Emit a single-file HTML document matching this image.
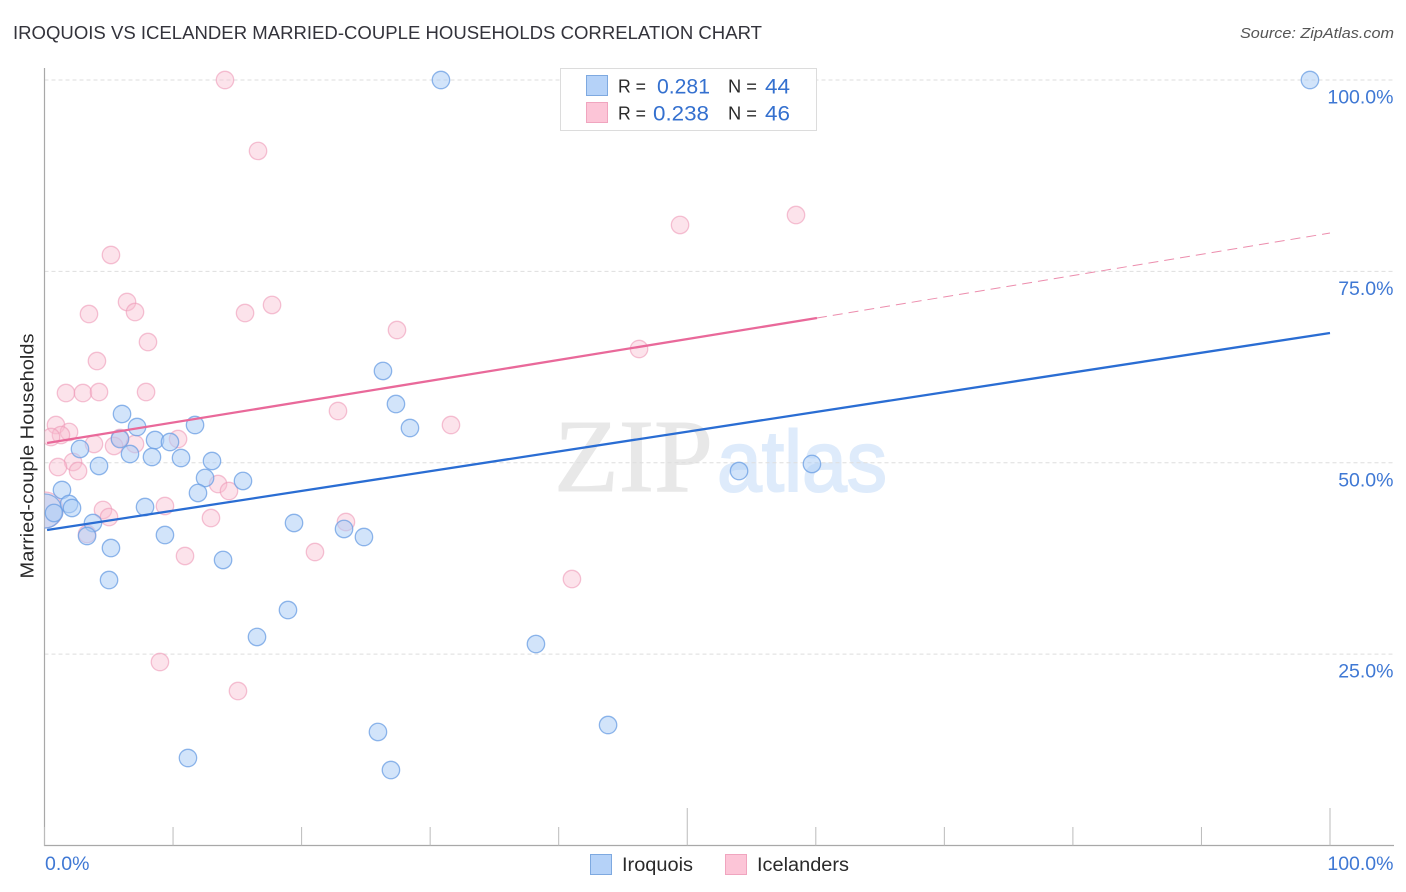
<!DOCTYPE html>
<html lang="en">
<head>
<meta charset="utf-8">
<title>Iroquois vs Icelander Married-couple Households Correlation Chart</title>
<style>
html,body{margin:0;padding:0;background:#fff;}
svg{display:block;}
text{font-family:"Liberation Sans",sans-serif;}
</style>
</head>
<body>
<svg id="chart" xmlns="http://www.w3.org/2000/svg" width="1406" height="892" viewBox="0 0 1406 892">
  <defs>
    <clipPath id="plot-clip"><rect x="44.5" y="60" width="1350" height="786"/></clipPath>
  </defs>
  <rect width="1406" height="892" fill="#fff"/>
  <text x="13" y="39" font-size="18.5" fill="#33333b" textLength="749" lengthAdjust="spacingAndGlyphs">IROQUOIS VS ICELANDER MARRIED-COUPLE HOUSEHOLDS CORRELATION CHART</text>
  <text x="1394" y="38" font-size="15" font-style="italic" fill="#555" text-anchor="end" textLength="154" lengthAdjust="spacingAndGlyphs">Source: ZipAtlas.com</text>

  <g>
    <text x="554" y="491" style="font-family:'Liberation Serif',serif" font-size="104" fill="#e8e8e8" stroke="#e8e8e8" stroke-width="1" textLength="159" lengthAdjust="spacingAndGlyphs">ZIP</text>
    <text x="717" y="491" font-size="86" fill="#deebfb" stroke="#deebfb" stroke-width="2" textLength="170" lengthAdjust="spacingAndGlyphs">atlas</text>
  </g>

  <g id="grid"></g>
  <g id="axes"></g>
  <g id="points" clip-path="url(#plot-clip)"></g>
  <g id="trends"></g>
  <g id="labels"></g>

  <text transform="translate(33.5,456) rotate(-90)" font-size="18" fill="#2a2a2a" text-anchor="middle" textLength="245" lengthAdjust="spacingAndGlyphs">Married-couple Households</text>

  <g>
    <rect x="560.5" y="68.5" width="256" height="62" fill="#fff" stroke="#dcdcdc"/>
    <rect x="586.5" y="75.5" width="21" height="20" fill="#b5d2f8" stroke="#7ea9e0"/>
    <rect x="586.5" y="102.5" width="21" height="20" fill="#fcc5d7" stroke="#f0a5bf"/>
    <text x="618" y="92.5" font-size="18" fill="#2a2a2a" textLength="28" lengthAdjust="spacingAndGlyphs">R =</text>
    <text x="657" y="93.5" font-size="21" fill="#3470cf" textLength="53" lengthAdjust="spacingAndGlyphs">0.281</text>
    <text x="728" y="92.5" font-size="18" fill="#2a2a2a" textLength="29" lengthAdjust="spacingAndGlyphs">N =</text>
    <text x="765" y="93.5" font-size="21" fill="#3470cf" textLength="25" lengthAdjust="spacingAndGlyphs">44</text>
    <text x="618" y="119.5" font-size="18" fill="#2a2a2a" textLength="28" lengthAdjust="spacingAndGlyphs">R =</text>
    <text x="653" y="120.5" font-size="21" fill="#3470cf" textLength="56" lengthAdjust="spacingAndGlyphs">0.238</text>
    <text x="728" y="119.5" font-size="18" fill="#2a2a2a" textLength="29" lengthAdjust="spacingAndGlyphs">N =</text>
    <text x="765" y="120.5" font-size="21" fill="#3470cf" textLength="25" lengthAdjust="spacingAndGlyphs">46</text>
  </g>

  <g>
    <rect x="590.5" y="854.5" width="21" height="20" fill="#b5d2f8" stroke="#7ea9e0"/>
    <text x="622" y="871" font-size="19" fill="#2a2a2a" textLength="71" lengthAdjust="spacingAndGlyphs">Iroquois</text>
    <rect x="725.5" y="854.5" width="21" height="20" fill="#fcc5d7" stroke="#f0a5bf"/>
    <text x="757" y="871" font-size="19" fill="#2a2a2a" textLength="92" lengthAdjust="spacingAndGlyphs">Icelanders</text>
  </g>
</svg>
<script>
const iroquoisX = [30.84,98.44,26.33,27.34,6.03,7.20,11.71,28.43,8.60,9.76,5.87,2.76,6.65,8.36,10.62,13.03,4.24,54.03,59.70,15.44,12.49,1.36,11.94,1.91,2.14,7.82,19.41,3.77,23.30,24.85,9.37,3.31,5.17,13.89,5.02,18.94,16.53,38.23,43.84,25.94,11.16,26.95,0.74];
const iroquoisY = [100,100,61.99,57.67,56.37,54.67,54.93,54.54,52.97,52.71,53.10,51.80,51.14,50.75,50.62,50.23,49.58,48.92,49.84,47.62,48.01,46.44,46.05,44.61,44.09,44.22,42.13,42.13,41.35,40.30,40.56,40.43,38.86,37.30,34.68,30.76,27.24,26.32,15.74,14.83,11.43,9.86,43.44];
const iroquoisClusterX = [0.04];
const iroquoisClusterY = [43.70];
const icelandersX = [14.04,16.61,58.46,49.44,5.17,6.42,7.04,3.46,15.60,17.70,8.05,27.42,4.08,46.25,1.67,2.99,4.24,7.90,22.83,31.62,0.89,1.91,1.28,0.51,5.87,10.39,3.85,7.04,5.41,2.22,1.05,2.61,13.50,14.35,9.37,4.55,5.02,12.95,23.45,3.31,21.04,10.93,41.03,8.98,15.05];
const icelandersY = [100,90.73,82.36,81.06,77.14,71.00,69.69,69.43,69.56,70.61,65.77,67.34,63.29,64.86,59.11,59.11,59.24,59.24,56.76,54.93,54.93,54.02,53.62,53.36,53.23,53.10,52.45,52.45,52.19,50.10,49.44,48.92,47.22,46.31,44.35,43.83,42.91,42.78,42.26,40.69,38.34,37.82,34.81,23.97,20.18];
const icelandersClusterX = [0.04];
const icelandersClusterY = [43.83];
const iroquoisTrendX = [0.2,100];
const iroquoisTrendY = [41.21,66.95];
const icelandersTrendX = [0.2,60.09];
const icelandersTrendY = [52.58,68.91];
const icelandersDashX = [60.09,100];
const icelandersDashY = [68.91,80.01];
const yTicks = [25,50,75,100];
const yTickLabels = ["25.0%","50.0%","75.0%","100.0%"];
const xTicks = [0,10,20,30,40,50,60,70,80,90,100];
const xMajorTicks = [50,100];
const xEdgeLabels = ["0.0%","100.0%"];

const NS = "http://www.w3.org/2000/svg";
function sx(v){ return 44.5 + v * 12.855; }
function sy(v){ return 845.5 - v * 7.655; }
function make(tag, parent, attrs){
  const el = document.createElementNS(NS, tag);
  for (const k in attrs) el.setAttribute(k, attrs[k]);
  document.getElementById(parent).appendChild(el);
  return el;
}

yTicks.forEach(function(t, i){
  const line = make("line", "grid", {x1:44.5, x2:1394, y1:sy(t), y2:sy(t), stroke:"#dedede", "stroke-width":1, "stroke-dasharray":"4 3"});
  
  
  const lab = make("text", "labels", {x:1393.5, y:sy(t) + 23.5, "font-size":19.5, fill:"#3f78d4", "text-anchor":"end"});
  lab.textContent = yTickLabels[i];
  
  
});

const yAxis = make("line", "axes", {x1:44.5, x2:44.5, y1:68, y2:846, stroke:"#a8a8a8", "stroke-width":1.2});


const xAxis = make("line", "axes", {x1:44, x2:1394, y1:845.5, y2:845.5, stroke:"#a8a8a8", "stroke-width":1.2});


xTicks.forEach(function(t){
  const major = xMajorTicks.indexOf(t) >= 0;
  const tick = make("line", "axes", {x1:sx(t), x2:sx(t), y1:major ? 808 : 827, y2:845.5, stroke:"#bbbbbb", "stroke-width":1});
  
  
});

const lab0 = make("text", "labels", {x:45, y:870, "font-size":19.5, fill:"#3f78d4"});
lab0.textContent = xEdgeLabels[0];


const lab100 = make("text", "labels", {x:1393.5, y:870, "font-size":19.5, fill:"#3f78d4", "text-anchor":"end"});
lab100.textContent = xEdgeLabels[1];



function drawPink(xs, ys, r){
  xs.forEach(function(x, i){
    const c = make("circle", "points", {cx:sx(x), cy:sy(ys[i]), r:r, fill:"#f9bcd0", "fill-opacity":0.42, stroke:"#ee9ab8", "stroke-opacity":0.6, "stroke-width":1.3});
    
    
  });
}
function drawBlue(xs, ys, r){
  xs.forEach(function(x, i){
    const c = make("circle", "points", {cx:sx(x), cy:sy(ys[i]), r:r, fill:"#adcdf6", "fill-opacity":0.55, stroke:"#6a9de3", "stroke-opacity":0.75, "stroke-width":1.3});
    
    
  });
}
drawPink(icelandersX, icelandersY, 8.7);
drawPink(icelandersClusterX, icelandersClusterY, 18);
drawBlue(iroquoisClusterX, iroquoisClusterY, 17);
drawBlue(iroquoisX, iroquoisY, 8.7);

const blueTrend = make("line", "trends", {x1:sx(iroquoisTrendX[0]), y1:sy(iroquoisTrendY[0]), x2:sx(iroquoisTrendX[1]), y2:sy(iroquoisTrendY[1]), stroke:"#2a6dd3", "stroke-width":2.3});


const pinkTrend = make("line", "trends", {x1:sx(icelandersTrendX[0]), y1:sy(icelandersTrendY[0]), x2:sx(icelandersTrendX[1]), y2:sy(icelandersTrendY[1]), stroke:"#e9699a", "stroke-width":2.3});


const pinkDash = make("line", "trends", {x1:sx(icelandersDashX[0]), y1:sy(icelandersDashY[0]), x2:sx(icelandersDashX[1]), y2:sy(icelandersDashY[1]), stroke:"#ec8dad", "stroke-width":1, "stroke-dasharray":"10 6"});


</script>
</body>
</html>
